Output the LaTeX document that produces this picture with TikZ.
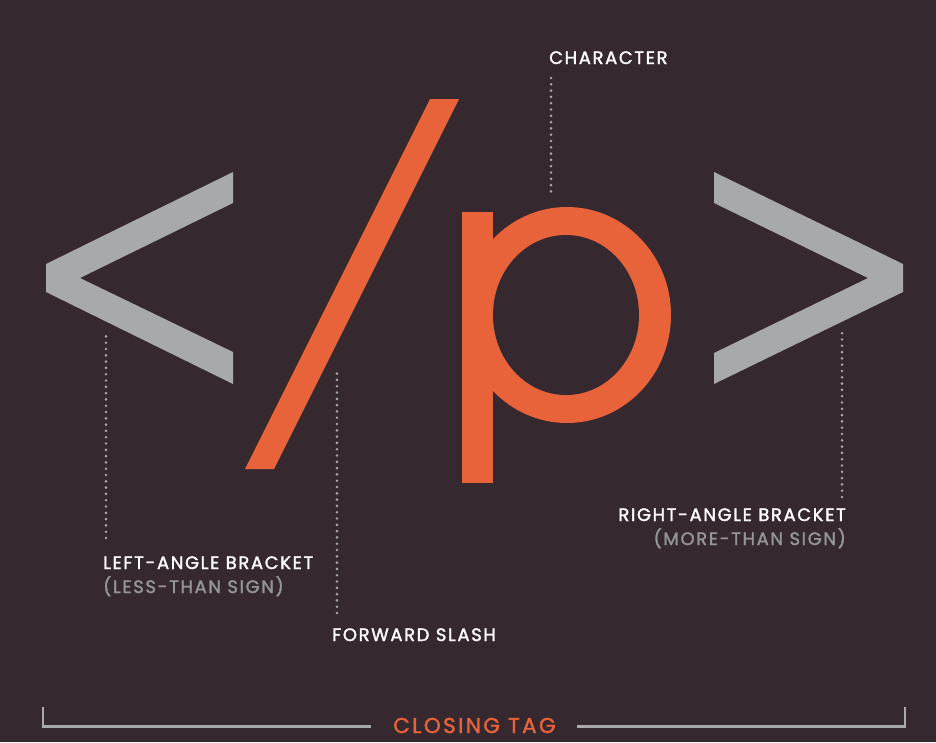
\documentclass[tikz,border=0pt]{standalone}
\usepackage{fontspec}
\setmainfont{Poppins}
\newfontfamily\labelfont{Poppins}[LetterSpace=9, FakeBold=1.6]
\newfontfamily\tagfont{Poppins}[LetterSpace=11, FakeBold=1.6]
\usetikzlibrary{positioning}
\definecolor{plum}{HTML}{36282F}
\definecolor{ash}{HTML}{A7A9AC}
\definecolor{flame}{HTML}{E8623A}
\definecolor{mist}{HTML}{939598}

\begin{document}
\begin{tikzpicture}[x=1pt, y=-1pt,
  bracketfill/.style={fill=ash},
  accent/.style={fill=flame},
  leader/.style={draw=ash, line width=2.9pt, line cap=round, dash pattern=on 0pt off 6.3pt},
  frame/.style={draw=ash, line width=2.8pt},
  lbl/.style={inner sep=0pt, text=white, font=\labelfont\fontsize{18}{21}\selectfont},
  sub/.style={lbl, text=mist},
  tagname/.style={inner sep=0pt, text=flame, font=\tagfont\fontsize{21.5}{25}\selectfont}]
  % background and page size
  \fill[plum] (0,0) rectangle (936,742);
  \useasboundingbox (0,0) rectangle (936,742);

  % the glyphs of the tag
  \fill[bracketfill] (233,172) -- (233,203) -- (80,278) -- (233,352) -- (233,384)
    -- (46,292) -- (46,264) -- cycle;
  \fill[bracketfill] (714,172) -- (714,203) -- (868,278) -- (714,353) -- (714,384)
    -- (903,292) -- (903,264) -- cycle;
  \fill[accent] (430,99) -- (459,99) -- (274,469) -- (245,469) -- cycle;
  \fill[accent] (462,212) rectangle (493,483);
  \fill[accent] (567,315) ellipse [x radius=104, y radius=108];
  \fill[plum] (566,315) ellipse [x radius=73, y radius=80];

  % labels
  \node[lbl, anchor=base west] (char) at (549,64) {CHARACTER};
  \node[lbl, anchor=base west] (lt) at (103,569) {LEFT-ANGLE BRACKET};
  \node[sub, anchor=base west] (ltsub) at (103,593) {(LESS-THAN SIGN)};
  \node[lbl, anchor=base west] (slash) at (332,641) {FORWARD SLASH};
  \node[lbl, anchor=base east] (gt) at (846,521) {RIGHT-ANGLE BRACKET};
  \node[sub, anchor=base east] (gtsub) at (846,545) {(MORE-THAN SIGN)};
  \node[tagname, anchor=base] (tag) at (474.5,733) {CLOSING TAG};

  % leader ends at the glyphs
  \coordinate (charend) at (551,194);
  \coordinate (ltend) at (106,332);
  \coordinate (slashend) at (337,373);
  \coordinate (gtend) at (842,332);

  \draw[leader] (551,78) -- (charend);
  \draw[leader] (106,538) -- (ltend);
  \draw[leader] (337,613) -- (slashend);
  \draw[leader] (842,497) -- (gtend);

  % bracket under the whole tag
  \coordinate (fl) at (43,707);
  \coordinate (fr) at (905,707);
  \draw[frame] (fl) |- ([xshift=-22pt, yshift=-1pt]tag.west);
  \draw[frame] (fr) |- ([xshift=21pt, yshift=-1pt]tag.east);
\end{tikzpicture}
\end{document}
